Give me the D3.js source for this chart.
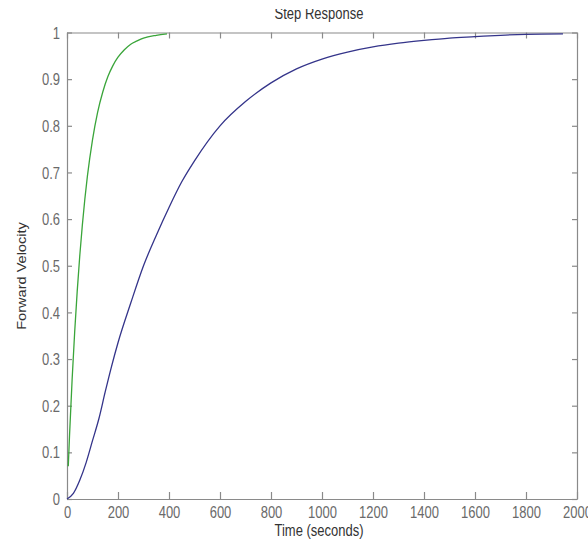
<!DOCTYPE html>
<html>
<head>
<meta charset="utf-8">
<script src="https://cdn.jsdelivr.net/npm/d3@7"></script>
<style>
  html, body { margin: 0; padding: 0; background: #fff; }
  svg { display: block; }
</style>
</head>
<body>
<svg id="chart" width="588" height="550"></svg>
<script>
// ---- data ----
const xTicks = [0, 200, 400, 600, 800, 1000, 1200, 1400, 1600, 1800, 2000];
const yTicks = [0, 0.1, 0.2, 0.3, 0.4, 0.5, 0.6, 0.7, 0.8, 0.9, 1];

// fast response (green)
const greenTime  = [5, 10, 20, 30, 40, 50, 60, 70, 80, 100, 120, 140, 160, 180, 200, 225, 250, 275, 300, 350, 392];
const greenValue = [0.07, 0.137, 0.255, 0.357, 0.445, 0.521, 0.586, 0.643, 0.692, 0.770, 0.829, 0.872, 0.905, 0.929, 0.947, 0.963, 0.975, 0.982, 0.988, 0.994, 0.997];

// slow response (blue)
const blueTime  = [0, 25, 50, 75, 100, 125, 150, 175, 200, 250, 300, 350, 400, 450, 500, 600, 700, 800, 900, 1000, 1100, 1200, 1300, 1400, 1500, 1600, 1700, 1800, 1945];
const blueValue = [0, 0.012, 0.04, 0.078, 0.125, 0.172, 0.23, 0.285, 0.335, 0.42, 0.50, 0.565, 0.625, 0.68, 0.725, 0.80, 0.852, 0.892, 0.922, 0.943, 0.958, 0.969, 0.977, 0.983, 0.988, 0.991, 0.994, 0.996, 0.997];

const titleText = "Step Response";
const xLabel = "Time (seconds)";
const yLabel = "Forward Velocity";

// ---- layout ----
const plotLeft = 67, plotRight = 577, plotTop = 32.5, plotBottom = 499;
const FONT = "'Liberation Sans', Arial, sans-serif";
const stretch = 1.2;

const svg = d3.select("#chart");
const x = d3.scaleLinear().domain([0, 2000]).range([plotLeft, plotRight]);
const y = d3.scaleLinear().domain([0, 1]).range([plotBottom, plotTop]);

const axisColor = "#8a8a8a";
const labelColor = "#6a6a6a";

function styleAxis(g) {
  g.select(".domain").attr("stroke", axisColor).attr("stroke-width", 1.2);
  g.selectAll(".tick line").attr("stroke", axisColor).attr("stroke-width", 1.2);
  g.selectAll(".tick text").attr("fill", labelColor).style("font-family", FONT).style("font-size", "13px");
}

// bottom axis
const gx = svg.append("g")
  .attr("transform", `translate(0,${plotBottom})`)
  .call(d3.axisBottom(x).tickValues(xTicks).tickSizeInner(-7).tickSizeOuter(0).tickFormat(d3.format("d")));
styleAxis(gx);
gx.selectAll(".tick text")
  .attr("y", null).attr("dy", null)
  .attr("transform", `translate(0,19) scale(1,${stretch})`);

// top axis (ticks only)
const gxt = svg.append("g")
  .attr("transform", `translate(0,${plotTop})`)
  .call(d3.axisTop(x).tickValues(xTicks).tickSizeInner(-6).tickSizeOuter(0).tickFormat(""));
styleAxis(gxt);

// left axis
const gy = svg.append("g")
  .attr("transform", `translate(${plotLeft},0)`)
  .call(d3.axisLeft(y).tickValues(yTicks).tickSizeInner(-5).tickSizeOuter(0).tickFormat(d3.format("~g")));
styleAxis(gy);
gy.selectAll(".tick text")
  .attr("x", null).attr("dy", null)
  .attr("text-anchor", "end")
  .attr("transform", `translate(-7,5.6) scale(1,${stretch})`);

// right axis (ticks only)
const gyr = svg.append("g")
  .attr("transform", `translate(${plotRight},0)`)
  .call(d3.axisRight(y).tickValues(yTicks).tickSizeInner(-5).tickSizeOuter(0).tickFormat(""));
styleAxis(gyr);

// lines
const line = d3.line().x(d => x(d[0])).y(d => y(d[1])).curve(d3.curveMonotoneX);

const blueData = blueTime.map((t, i) => [t, blueValue[i]]);
const greenData = greenTime.map((t, i) => [t, greenValue[i]]);

svg.append("path").datum(blueData)
  .attr("d", line).attr("fill", "none")
  .attr("stroke", "#34348a").attr("stroke-width", 1.3);

svg.append("path").datum(greenData)
  .attr("d", line).attr("fill", "none")
  .attr("stroke", "#3aa53a").attr("stroke-width", 1.3);

// title (its top is cut off in the reference)
svg.append("clipPath").attr("id", "titleClip")
  .append("rect").attr("x", 0).attr("y", 9).attr("width", 588).attr("height", 30);
svg.append("g").attr("clip-path", "url(#titleClip)")
  .append("text")
  .attr("transform", `translate(319,19) scale(1,${stretch})`)
  .attr("text-anchor", "middle")
  .attr("fill", "#333")
  .style("font-family", FONT).style("font-size", "13px")
  .text(titleText);

// x label
svg.append("text")
  .attr("transform", `translate(319,535.5) scale(1,${stretch})`)
  .attr("text-anchor", "middle")
  .attr("fill", "#333")
  .style("font-family", FONT).style("font-size", "13px")
  .text(xLabel);

// y label
svg.append("text")
  .attr("transform", `translate(26,276) rotate(-90) scale(1.12,1)`)
  .attr("text-anchor", "middle")
  .attr("fill", "#333")
  .style("font-family", FONT).style("font-size", "13px")
  .text(yLabel);
</script>
</body>
</html>
